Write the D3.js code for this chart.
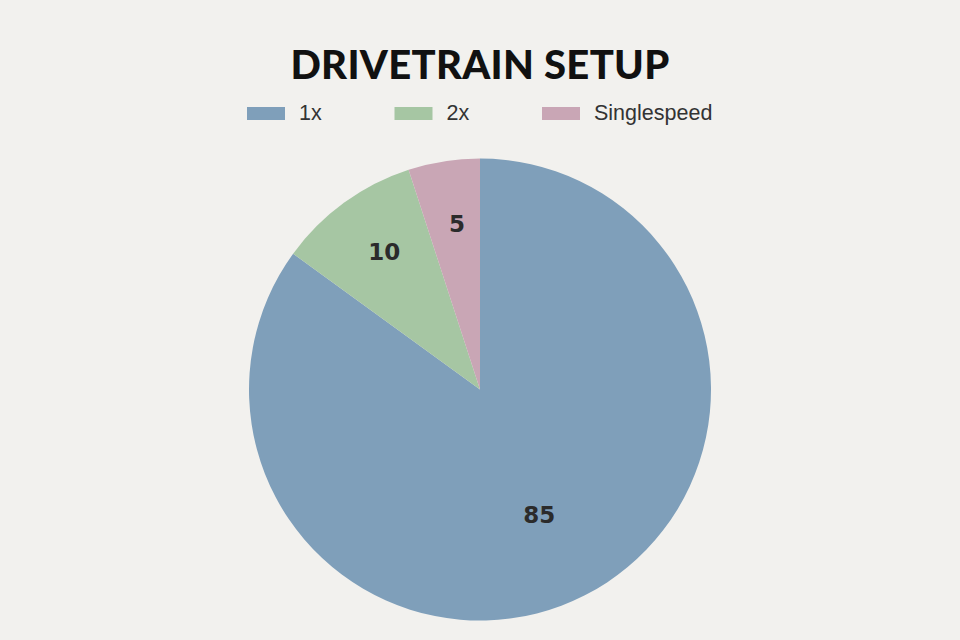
<!DOCTYPE html>
<html><head><meta charset="utf-8">
<script src="https://cdn.jsdelivr.net/npm/d3@7"></script>
<style>
html,body{margin:0;padding:0;background:#f2f1ee;}
</style></head>
<body>
<svg id="chart" width="960" height="640"></svg>
<script>
const categories = ["1x", "2x", "Singlespeed"];
const values = [85, 10, 5];
const colors = ["#7f9fba", "#a6c6a3", "#c9a6b5"];
const title = "DRIVETRAIN SETUP";

const W = 960, H = 640;
const svg = d3.select("#chart");
svg.append("rect").attr("width", W).attr("height", H).attr("fill", "#f2f1ee");

svg.append("text")
  .attr("x", W / 2).attr("y", 79)
  .attr("text-anchor", "middle")
  .attr("font-family", "Lato, Inter, 'DejaVu Sans', sans-serif")
  .attr("font-weight", 900)
  .attr("font-size", 40)
  .attr("letter-spacing", 0.3)
  .attr("fill", "#111")
  .text(title);

// legend
const step = 147.5, boxW = 38, boxH = 13;
const legendStart = 247;
const lg = svg.append("g");
categories.forEach((c, i) => {
  const g = lg.append("g").attr("transform", `translate(${legendStart + i * step},107)`);
  g.append("rect").attr("width", boxW).attr("height", boxH).attr("fill", colors[i]);
  g.append("text").attr("x", boxW + 14).attr("y", 13)
    .attr("font-family", "'Liberation Sans', Arial, sans-serif")
    .attr("font-size", 21.5).attr("fill", "#333").text(c);
});

// pie
const cx = 480, cy = 389.5, r = 231;
const pie = d3.pie().sort(null).value(d => d)(values);
const arc = d3.arc().innerRadius(0).outerRadius(r);
const g = svg.append("g").attr("transform", `translate(${cx},${cy})`);
g.selectAll("path").data(pie).join("path")
  .attr("d", arc).attr("fill", (d, i) => colors[i]);

g.selectAll("text.lbl").data(pie).join("text")
  .attr("class", "lbl")
  .attr("transform", d => {
    const frac = (d.endAngle - d.startAngle) / (2 * Math.PI);
    const lr = frac > 0.5 ? r * 0.6 : r * 0.725;
    const a = (d.startAngle + d.endAngle) / 2 + (frac > 0.5 ? 0.03 : 0.02);
    return `translate(${lr * Math.sin(a)},${-lr * Math.cos(a)})`;
  })
  .attr("text-anchor", "middle").attr("dy", "0.36em")
  .attr("font-family", "'DejaVu Sans', Verdana, sans-serif")
  .attr("font-weight", "bold").attr("font-size", 23)
  .attr("fill", "#2b2b2b")
  .text(d => d.data);
</script>
</body></html>
